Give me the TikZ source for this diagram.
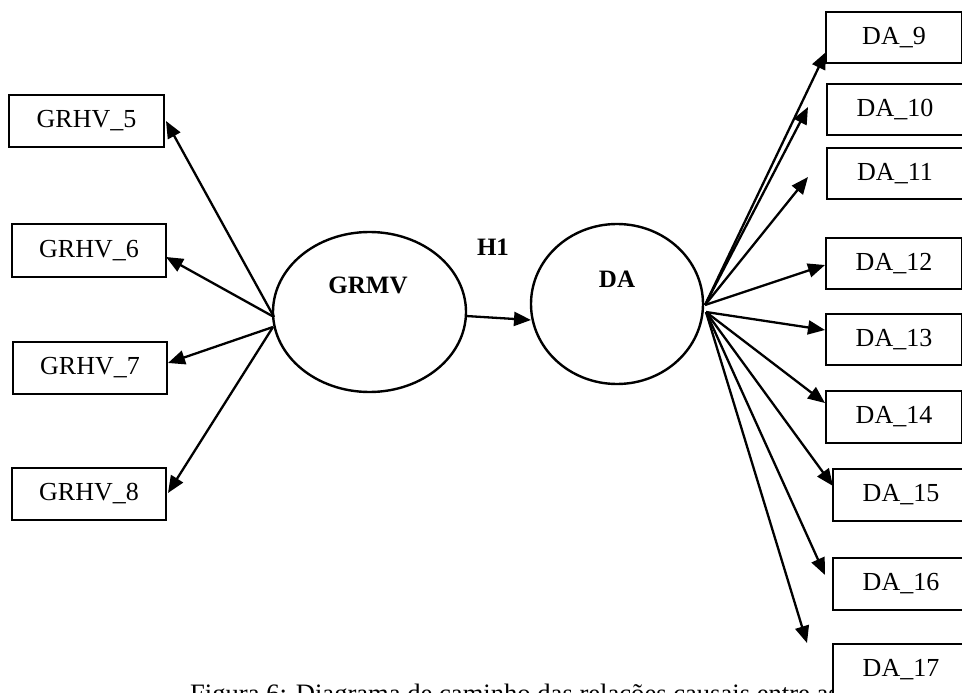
\documentclass[tikz,border=0pt]{standalone}
\usepackage{fontspec}
\setmainfont{Liberation Serif}
\usetikzlibrary{shapes.geometric,arrows.meta}

\tikzset{
  box/.style={draw, line width=2.6pt, fill=white, inner sep=0pt, outer sep=0pt,
    minimum height=52pt, font=\fontsize{26}{30}\selectfont},
  lbox/.style={box, minimum width=154pt},
  rbox/.style={box, minimum width=136pt, minimum height=51pt},
  latent/.style={ellipse, draw, line width=2.4pt, inner sep=0pt, outer sep=0pt},
  boldlbl/.style={font=\fontsize{25}{30}\selectfont\bfseries, inner sep=0pt},
  path/.style={line width=2.3pt, -{Triangle[length=17pt,width=14pt]}}
}

\begin{document}
\begin{tikzpicture}[x=1pt,y=-1pt]
  \path[use as bounding box, clip] (0,0) rectangle (962,693);

  % caption, partly hidden behind the last indicator box
  \node[anchor=base west, inner sep=0pt, font=\fontsize{26.6}{30}\selectfont]
    (caption) at (190,702) {Figura 6: Diagrama de caminho das relações causais entre as};

  % latent constructs
  \node[latent, minimum width=193pt, minimum height=160pt] (grmv) at (369.5,312) {};
  \node[latent, minimum width=172pt, minimum height=160pt] (da) at (617,304) {};
  \node[boldlbl] (grmvtxt) at (368,285) {GRMV};
  \node[boldlbl] (datxt) at (617,279) {DA};
  \node[boldlbl] (h1) at (493,247) {H1};

  % left indicators
  \node[lbox, minimum width=155pt] (g5) at (86.5,121) {GRHV\_5};
  \node[lbox, minimum height=53pt] (g6) at (89,250.5) {GRHV\_6};
  \node[lbox] (g7) at (90,368) {GRHV\_7};
  \node[lbox] (g8) at (89,494) {GRHV\_8};

  % right indicators
  \node[rbox] (d9)  at (894,37.5)  {DA\_9};
  \node[rbox] (d10) at (895,109.5) {DA\_10};
  \node[rbox] (d11) at (895,173.5) {DA\_11};
  \node[rbox] (d12) at (894,263.5) {DA\_12};
  \node[rbox] (d13) at (894,339.5) {DA\_13};
  \node[rbox, minimum height=52pt] (d14) at (894,417) {DA\_14};
  \node[rbox, minimum height=52pt] (d15) at (901,495) {DA\_15};
  \node[rbox, minimum height=52pt] (d16) at (901,584) {DA\_16};
  \node[rbox] (d17) at (901,669.5) {DA\_17};

  % start points on the construct outlines
  \coordinate (ga) at (274,317);
  \coordinate (gb) at (273,327);
  \coordinate (gr) at (466,316);
  \coordinate (dl) at (531,320);
  \coordinate (da1) at (705,305);
  \coordinate (da2) at (706,312);

  % arrow ends
  \coordinate (t5) at (166,121);
  \coordinate (t6) at (166,257);
  \coordinate (t7) at (168,363);
  \coordinate (t8) at (168,493);
  \coordinate (t9) at (826,52);
  \coordinate (t10) at (808,107);
  \coordinate (t11) at (808,177);
  \coordinate (t12) at (825,265);
  \coordinate (t13) at (825,330);
  \coordinate (t14) at (825,403);
  \coordinate (t15) at (833,486);
  \coordinate (t16) at (825,575);
  \coordinate (t17) at (807,643);

  % GRMV -> its indicators
  \draw[path] (ga) -- (t5);
  \draw[path] (ga) -- (t6);
  \draw[path] (gb) -- (t7);
  \draw[path] (gb) -- (t8);

  % structural path
  \draw[path] (gr) -- (dl);

  % DA -> its indicators
  \draw[path] (da1) -- (t9);
  \draw[path] (da1) -- (t10);
  \draw[path] (da1) -- (t11);
  \draw[path] (da1) -- (t12);
  \draw[path] (da2) -- (t13);
  \draw[path] (da2) -- (t14);
  \draw[path] (da2) -- (t15);
  \draw[path] (da2) -- (t16);
  \draw[path] (da2) -- (t17);
\end{tikzpicture}
\end{document}
